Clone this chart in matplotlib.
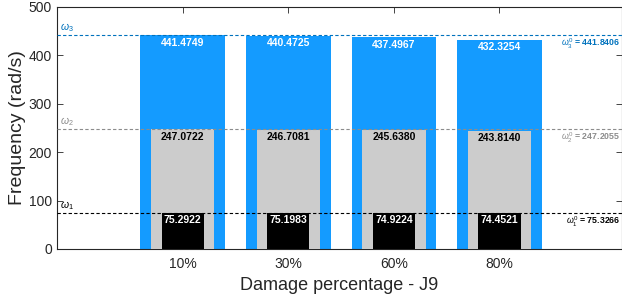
import numpy as np
import matplotlib.pyplot as plt

plt.rcParams['font.family'] = ['Liberation Sans', 'DejaVu Sans']
plt.rcParams['mathtext.fontset'] = 'custom'
plt.rcParams['mathtext.rm'] = 'Liberation Sans'
plt.rcParams['mathtext.it'] = 'Liberation Sans:italic'
plt.rcParams['mathtext.bf'] = 'Liberation Sans:bold'

# ── Data ───────────────────────────────────────────────────────────────────────
categories = ["10%", "30%", "60%", "80%"]
omega1 = [75.2922, 75.1983, 74.9224, 74.4521]
omega2 = [247.0722, 246.7081, 245.6380, 243.8140]
omega3 = [441.4749, 440.4725, 437.4967, 432.3254]
omega0 = [75.3266, 247.2055, 441.8406]   # undamaged reference

c_blue  = "#149bff"
c_gray  = "#cccccc"
c_black = "#000000"
line_colors = ["#000000", "#8c8c8c", "#0072bd"]

# ── Plot ───────────────────────────────────────────────────────────────────────
fig = plt.figure(figsize=(6.22, 3.0), dpi=100)
ax = fig.add_axes([0.0916, 0.17, 0.9084, 0.807])

x = np.arange(1, len(categories) + 1)
ax.bar(x, omega3, 0.8, color=c_blue, zorder=2)
ax.bar(x, omega2, 0.6, color=c_gray, zorder=3)
ax.bar(x, omega1, 0.4, color=c_black, zorder=4)

for xi, v in zip(x, omega3):
    ax.text(xi, v - 5, f"{v:.4f}", ha='center', va='top', color='white',
            fontsize=7.5, fontweight='bold', zorder=6)
for xi, v in zip(x, omega2):
    ax.text(xi, v - 5, f"{v:.4f}", ha='center', va='top', color='black',
            fontsize=7.5, fontweight='bold', zorder=6)
for xi, v in zip(x, omega1):
    ax.text(xi, v - 5, f"{v:.4f}", ha='center', va='top', color='white',
            fontsize=7.5, fontweight='bold', zorder=6)

xmin, xmax = -0.19, 5.16
for i, (w0, lc) in enumerate(zip(omega0, line_colors)):
    ax.axhline(w0, color=lc, linestyle=(0, (3, 2)), linewidth=0.8, zorder=5)
    ax.text(xmin + 0.03, w0 + 2, rf"$\omega_{i + 1}$", color=lc, fontsize=7.5,
            ha='left', va='bottom')
    ax.text(xmax - 0.02, w0 - 4, rf"$\omega_{i + 1}^0$ = {w0:.4f}", color=lc,
            fontsize=6.3, fontweight='bold', ha='right', va='top')

ax.set_xlim(xmin, xmax)
ax.set_ylim(0, 500)
ax.set_xticks(x)
ax.set_xticklabels(categories)
ax.set_yticks([0, 100, 200, 300, 400, 500])
ax.tick_params(direction='in', top=True, right=True, labelsize=10,
               colors='#262626', length=4, width=0.6)
ax.tick_params(axis='x', pad=6)
for s in ax.spines.values():
    s.set_color('#262626')
    s.set_linewidth(0.8)
ax.set_xlabel("Damage percentage - J9", fontsize=13, color='#262626', labelpad=4)
ax.set_ylabel("Frequency (rad/s)", fontsize=14, color='#262626', labelpad=2)

fig.savefig("out.png", dpi=100)
